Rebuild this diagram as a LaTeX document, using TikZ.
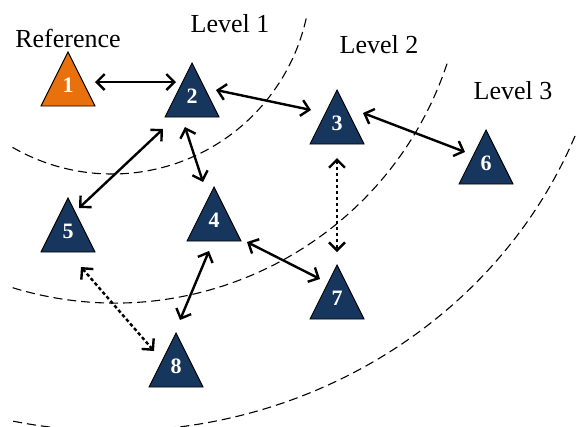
\documentclass[tikz,border=0pt]{standalone}
\usepackage{fontspec}
\setmainfont{Liberation Serif}
\usetikzlibrary{arrows.meta,calc}
\definecolor{navy}{RGB}{23,54,93}
\definecolor{refor}{RGB}{232,113,14}
\tikzset{
  tribox/.style={draw=black, line width=0.9pt, line join=miter},
  num/.style={text=white, font=\fontsize{22}{24}\selectfont\bfseries, inner sep=0pt},
  lvl/.style={font=\fontsize{26}{30}\selectfont, anchor=base, inner sep=0pt},
  ring/.style={dash pattern=on 9pt off 5pt, line width=1.1pt},
  link/.style={line width=2.4pt,
    {Straight Barb[length=8pt,width=16pt]}-{Straight Barb[length=8pt,width=16pt]}},
  weak/.style={link, dash pattern=on 3.5pt off 2.5pt},
}
% triangle marker: name, x, base y, fill colour, label
\newcommand\placetri[5]{%
  \filldraw[tribox, fill=#4] (#2-27,#3) -- (#2,#3-54) -- (#2+27,#3) -- cycle;
  \node[num] (#1) at (#2,#3-21) {#5};
}
\begin{document}
\begin{tikzpicture}[x=1pt,y=-1pt]
  \clip (0,0) rectangle (576,426);
  \fill[white] (0,0) rectangle (576,426);

  % level boundaries
  \draw[ring] (112,-25) ++(120:199) arc[start angle=120, end angle=12.5, radius=199];
  \draw[ring] (115,-47) ++(107:350) arc[start angle=107, end angle=18.2, radius=350];
  \draw[ring] (114,-40) ++(101.7:497 and 471)
    arc[start angle=101.7, end angle=18, x radius=497, y radius=471];

  % labels
  \node[lvl] (ref) at (68,47) {Reference};
  \node[lvl] (l1) at (230,32) {Level 1};
  \node[lvl] (l2) at (379,53) {Level 2};
  \node[lvl] (l3) at (513,99) {Level 3};

  % nodes
  \placetri{t1}{68}{106}{refor}{1}
  \placetri{t2}{192}{117}{navy}{2}
  \placetri{t3}{337}{144}{navy}{3}
  \placetri{t6}{486}{184}{navy}{6}
  \placetri{t5}{68}{252}{navy}{5}
  \placetri{t4}{214}{241}{navy}{4}
  \placetri{t8}{176}{387}{navy}{8}
  \placetri{t7}{337}{319}{navy}{7}

  % links
  \draw[link] ($(t1)+(27,-3)$) -- ($(t2)+(-16,-14)$);
  \draw[link] ($(t2)+(24,-6)$) -- ($(t3)+(-26,-13)$);
  \draw[link] ($(t3)+(26,-10)$) -- ($(t6)+(-21,-11)$);
  \draw[link] ($(t2)+(-29,33)$) -- ($(t5)+(11,-23)$);
  \draw[link] ($(t2)+(-7,31)$) -- ($(t4)+(-11,-38)$);
  \draw[link] ($(t4)+(33,22)$) -- ($(t7)+(-17,-19)$);
  \draw[link] ($(t4)+(-5,31)$) -- ($(t8)+(4,-46)$);
  \draw[weak] ($(t3)+(0,35)$) -- ($(t7)+(0,-46)$);
  \draw[weak] ($(t5)+(13,36)$) -- ($(t8)+(-22,-15)$);
\end{tikzpicture}
\end{document}
